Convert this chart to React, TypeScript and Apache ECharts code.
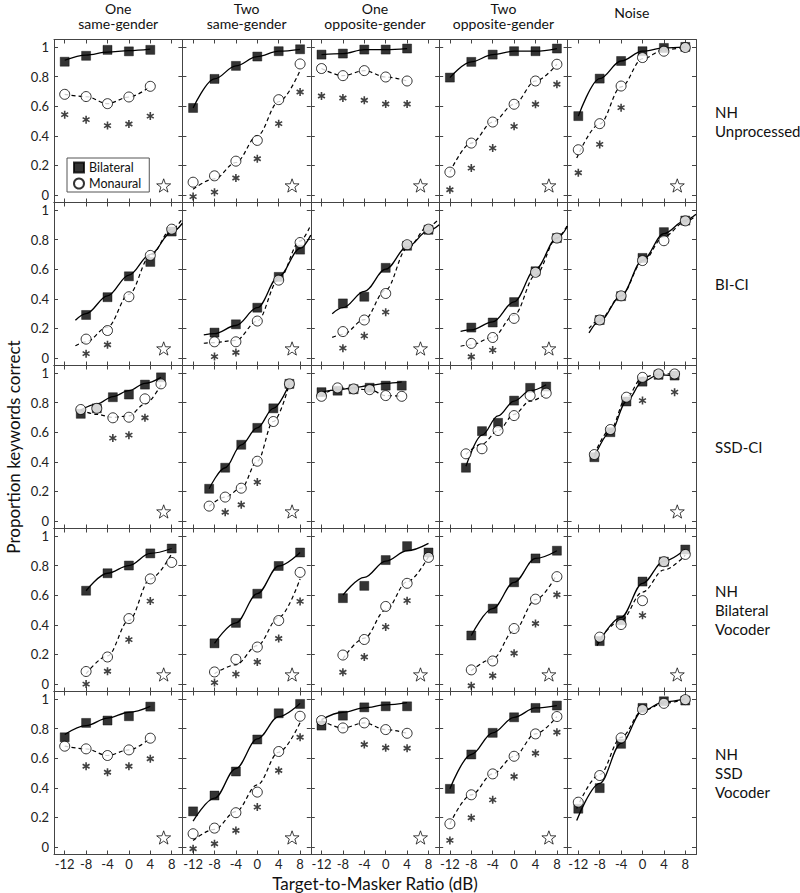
import React, { useEffect, useRef } from "react";
import * as echarts from "echarts";

// ---------- labels ----------
const conditions = ["One\nsame-gender", "Two\nsame-gender", "One\nopposite-gender", "Two\nopposite-gender", "Noise"];
const groups = ["NH\nUnprocessed", "BI-CI", "SSD-CI", "NH\nBilateral\nVocoder", "NH\nSSD\nVocoder"];
const xTicks = [-12, -8, -4, 0, 4, 8];
const yTicks = [0, 0.2, 0.4, 0.6, 0.8, 1];

// ---------- target-to-masker ratios per panel (row = group, col = condition) ----------
const tmrUnproc = [[-12, -8, -4, 0, 4], [-12, -8, -4, 0, 4, 8], [-12, -8, -4, 0, 4], [-12, -8, -4, 0, 4, 8], [-12, -8, -4, 0, 4, 8]];
const tmrBiCI = [[-8, -4, 0, 4, 8], [-8, -4, 0, 4, 8], [-8, -4, 0, 4, 8], [-8, -4, 0, 4, 8], [-8, -4, 0, 4, 8]];
const tmrSsdCI = [[-9, -6, -3, 0, 3, 6], [-9, -6, -3, 0, 3, 6], [-12, -9, -6, -3, 0, 3], [-9, -6, -3, 0, 3, 6], [-9, -6, -3, 0, 3, 6]];
const tmrBiVoc = [[-8, -4, 0, 4, 8], [-8, -4, 0, 4, 8], [-8, -4, 0, 4, 8], [-8, -4, 0, 4, 8], [-8, -4, 0, 4, 8]];
const tmrSsdVoc = [[-12, -8, -4, 0, 4], [-12, -8, -4, 0, 4, 8], [-12, -8, -4, 0, 4], [-12, -8, -4, 0, 4, 8], [-12, -8, -4, 0, 4, 8]];

// ---------- Bilateral (filled squares) ----------
const bilUnproc = [[0.90, 0.94, 0.98, 0.97, 0.98], [0.588, 0.784, 0.872, 0.935, 0.971, 0.984], [0.948, 0.955, 0.982, 0.982, 0.989], [0.793, 0.899, 0.948, 0.971, 0.971, 0.989], [0.533, 0.786, 0.905, 0.971, 0.993, 1.0]];
const bilBiCI = [[0.291, 0.411, 0.552, 0.649, 0.854], [0.172, 0.228, 0.34, 0.548, 0.732], [0.369, 0.414, 0.609, 0.758, 0.866], [0.206, 0.24, 0.378, 0.586, 0.81], [0.257, 0.418, 0.676, 0.85, 0.928]];
const bilSsdCI = [[0.724, 0.761, 0.836, 0.854, 0.921, 0.97], [0.218, 0.36, 0.515, 0.629, 0.761, 0.926], [0.87, 0.88, 0.89, 0.9, 0.914, 0.914], [0.36, 0.607, 0.663, 0.813, 0.899, 0.908], [0.431, 0.6, 0.807, 0.941, 0.987, 0.982]];
const bilBiVoc = [[0.63, 0.748, 0.8, 0.882, 0.915], [0.275, 0.413, 0.61, 0.797, 0.888], [0.58, 0.663, 0.837, 0.931, 0.888], [0.328, 0.509, 0.687, 0.848, 0.9], [0.29, 0.431, 0.692, 0.826, 0.908]];
const bilSsdVoc = [[0.741, 0.838, 0.854, 0.883, 0.948], [0.241, 0.348, 0.51, 0.726, 0.903, 0.966], [0.82, 0.887, 0.943, 0.95, 0.95], [0.393, 0.625, 0.771, 0.876, 0.939, 0.955], [0.259, 0.398, 0.697, 0.939, 0.984, 0.989]];

// ---------- Monaural (open circles) ----------
const monUnproc = [[0.68, 0.665, 0.617, 0.662, 0.734], [0.087, 0.13, 0.229, 0.369, 0.644, 0.885], [0.854, 0.806, 0.84, 0.797, 0.77], [0.155, 0.351, 0.493, 0.613, 0.77, 0.883], [0.306, 0.482, 0.736, 0.928, 0.971, 0.996]];
const monBiCI = [[0.128, 0.186, 0.414, 0.693, 0.87], [0.11, 0.11, 0.25, 0.526, 0.78], [0.179, 0.257, 0.436, 0.765, 0.87], [0.099, 0.139, 0.268, 0.579, 0.81], [0.257, 0.42, 0.658, 0.792, 0.926]];
const monSsdCI = [[0.753, 0.761, 0.697, 0.701, 0.825, 0.926], [0.101, 0.162, 0.222, 0.404, 0.672, 0.926], [0.842, 0.899, 0.892, 0.887, 0.847, 0.842], [0.454, 0.488, 0.611, 0.712, 0.847, 0.863], [0.449, 0.618, 0.836, 0.97, 0.993, 0.993]];
const monBiVoc = [[0.085, 0.183, 0.442, 0.71, 0.821], [0.082, 0.167, 0.25, 0.429, 0.754], [0.196, 0.301, 0.524, 0.68, 0.855], [0.096, 0.156, 0.375, 0.573, 0.725], [0.317, 0.402, 0.563, 0.826, 0.875]];
const monSsdVoc = [[0.681, 0.663, 0.618, 0.656, 0.735], [0.09, 0.128, 0.232, 0.371, 0.645, 0.883], [0.854, 0.804, 0.838, 0.793, 0.768], [0.157, 0.353, 0.494, 0.613, 0.764, 0.881], [0.303, 0.483, 0.737, 0.928, 0.97, 0.995]];

// ---------- significance asterisks (height of mark, null = none) ----------
const astUnproc = [[0.543, 0.509, 0.469, 0.48, 0.533], [-0.01, 0.02, 0.115, 0.245, 0.482, 0.696], [0.669, 0.655, 0.64, 0.615, 0.615], [0.036, 0.182, 0.317, 0.464, 0.613, 0.748], [0.151, 0.342, 0.59, null, null, null]];
const astBiCI = [[0.03, 0.09, null, null, null], [0.01, 0.038, null, null, null], [0.067, 0.15, 0.31, null, null], [0.009, 0.054, null, null, null], [null, null, null, null, null]];
const astSsdCI = [[null, null, 0.56, 0.58, 0.697, null], [null, 0.06, 0.11, 0.263, null, null], [null, null, null, null, null, null], [null, null, null, null, null, null], [null, null, null, 0.813, null, 0.87]];
const astBiVoc = [[0.0, 0.087, 0.3, 0.56, null], [0.01, 0.067, 0.149, 0.308, 0.558], [0.08, 0.183, 0.386, 0.563, null], [-0.011, 0.056, 0.208, 0.409, 0.603], [null, null, 0.464, null, null]];
const astSsdVoc = [[null, 0.546, 0.505, 0.546, 0.596], [-0.011, 0.023, 0.112, 0.27, 0.517, 0.741], [null, null, 0.692, 0.67, 0.667], [0.045, 0.198, 0.319, 0.476, 0.633, 0.775], [null, null, null, null, null, null]];

// ---------- open-star markers (1 = shown) ----------
const starUnproc = [1, 1, 1, 1, 1];
const starBiCI = [1, 1, 1, 1, 0];
const starSsdCI = [1, 1, 0, 0, 1];
const starBiVoc = [1, 1, 1, 1, 1];
const starSsdVoc = [1, 1, 1, 1, 0];
const starPos = [6.5, 0.065];

// ---------- fitted curves (null = curve follows the points) ----------
type Pts = number[][] | null;
const fitBilUnproc: Pts[] = [[[-12, 0.91], [-8, 0.945], [-4, 0.965], [0, 0.975], [4, 0.985]], null, null, null, null];
const fitMonUnproc: Pts[] = [null, [[-12, 0.04], [-8, 0.11], [-4, 0.22], [0, 0.4], [4, 0.63], [8, 0.84]], null, null, [[-12.3, 0.25], [-8, 0.48], [-4, 0.73], [0, 0.92], [4, 0.98], [8, 1.0]]];
const fitBilBiCI: Pts[] = [
  [[-10, 0.255], [-8, 0.3], [-4, 0.42], [0, 0.56], [4, 0.7], [8, 0.85], [10, 0.91]],
  [[-10, 0.157], [-8, 0.165], [-4, 0.22], [0, 0.34], [4, 0.55], [8, 0.74], [10, 0.83]],
  [[-10, 0.3], [-8, 0.34], [-4, 0.45], [0, 0.6], [4, 0.75], [8, 0.86], [10, 0.9]],
  [[-10, 0.18], [-8, 0.19], [-4, 0.245], [0, 0.38], [4, 0.6], [8, 0.81], [10, 0.89]],
  [[-10, 0.17], [-8, 0.25], [-4, 0.42], [0, 0.66], [4, 0.84], [8, 0.93], [10, 0.97]],
];
const fitMonBiCI: Pts[] = [
  [[-10, 0.083], [-8, 0.11], [-4, 0.21], [0, 0.43], [4, 0.69], [8, 0.87], [10, 0.94]],
  [[-10, 0.1], [-8, 0.105], [-4, 0.12], [0, 0.25], [4, 0.53], [8, 0.79], [10, 0.9]],
  [[-10, 0.14], [-8, 0.16], [-4, 0.26], [0, 0.46], [4, 0.74], [8, 0.89], [10, 0.94]],
  [[-10, 0.08], [-8, 0.09], [-4, 0.14], [0, 0.29], [4, 0.56], [8, 0.81], [10, 0.9]],
  [[-10, 0.2], [-8, 0.26], [-4, 0.42], [0, 0.65], [4, 0.82], [8, 0.92], [10, 0.96]],
];
const fitBilSsdCI: Pts[] = [
  [[-9, 0.75], [-6, 0.79], [-3, 0.84], [0, 0.88], [3, 0.93], [6, 0.97]],
  null,
  [[-12, 0.87], [-9, 0.885], [-6, 0.9], [-3, 0.915], [0, 0.93], [3, 0.94]],
  [[-9, 0.37], [-6, 0.58], [-3, 0.71], [0, 0.81], [3, 0.88], [6, 0.92]],
  null,
];
const fitMonSsdCI: Pts[] = [
  [[-9, 0.75], [-6, 0.72], [-3, 0.7], [0, 0.71], [3, 0.79], [6, 0.92]],
  null,
  null,
  [[-9, 0.45], [-6, 0.52], [-3, 0.61], [0, 0.72], [3, 0.81], [6, 0.86]],
  null,
];
const fitBilBiVoc: Pts[] = [null, null, [[-8, 0.6], [-4, 0.72], [0, 0.83], [4, 0.9], [8, 0.95]], null, [[-8.5, 0.26], [-4, 0.45], [0, 0.68], [4, 0.83], [8, 0.91]]];
const fitMonBiVoc: Pts[] = [
  [[-8, 0.07], [-4, 0.19], [0, 0.43], [4, 0.71], [8, 0.88]],
  [[-8, 0.07], [-4, 0.13], [0, 0.26], [4, 0.45], [8, 0.71]],
  [[-8, 0.17], [-4, 0.31], [0, 0.5], [4, 0.69], [8, 0.86]],
  [[-8, 0.09], [-4, 0.17], [0, 0.36], [4, 0.57], [8, 0.74]],
  [[-8.5, 0.28], [-4, 0.43], [0, 0.62], [4, 0.77], [8, 0.87]],
];
const fitBilSsdVoc: Pts[] = [
  [[-12, 0.76], [-8, 0.82], [-4, 0.87], [0, 0.91], [4, 0.95]],
  [[-12, 0.175], [-8, 0.33], [-4, 0.53], [0, 0.73], [4, 0.88], [8, 0.97]],
  [[-12, 0.86], [-8, 0.91], [-4, 0.94], [0, 0.96], [4, 0.975]],
  null,
  [[-12.3, 0.18], [-8, 0.43], [-4, 0.7], [0, 0.92], [4, 0.98], [8, 1.0]],
];
const fitMonSsdVoc: Pts[] = [null, [[-12, 0.045], [-8, 0.12], [-4, 0.24], [0, 0.42], [4, 0.64], [8, 0.84]], null, null, [[-12.3, 0.26], [-8, 0.49], [-4, 0.74], [0, 0.92], [4, 0.97], [8, 1.0]]];

const FONT = "Lato, 'Open Sans', 'DejaVu Sans', sans-serif";
const INK = "#000";
const STAR_PATH = "path://M0,-10L2.35,-3.24L9.51,-3.09L3.8,1.24L5.88,8.09L0,4L-5.88,8.09L-3.8,1.24L-9.51,-3.09L-2.35,-3.24Z";
const AST_PATH = "path://M0,-6L0,6M-5.2,-3L5.2,3M-5.2,3L5.2,-3";

export default function App() {
  const ref = useRef<HTMLDivElement>(null);
  useEffect(() => {
    if (!ref.current) return;
    const chart = echarts.init(ref.current, undefined, { renderer: "svg" });

    const rows = [
      { tmr: tmrUnproc, bil: bilUnproc, mon: monUnproc, ast: astUnproc, star: starUnproc, fb: fitBilUnproc, fm: fitMonUnproc },
      { tmr: tmrBiCI, bil: bilBiCI, mon: monBiCI, ast: astBiCI, star: starBiCI, fb: fitBilBiCI, fm: fitMonBiCI },
      { tmr: tmrSsdCI, bil: bilSsdCI, mon: monSsdCI, ast: astSsdCI, star: starSsdCI, fb: fitBilSsdCI, fm: fitMonSsdCI },
      { tmr: tmrBiVoc, bil: bilBiVoc, mon: monBiVoc, ast: astBiVoc, star: starBiVoc, fb: fitBilBiVoc, fm: fitMonBiVoc },
      { tmr: tmrSsdVoc, bil: bilSsdVoc, mon: monSsdVoc, ast: astSsdVoc, star: starSsdVoc, fb: fitBilSsdVoc, fm: fitMonSsdVoc },
    ];

    const GL = 54, GT = 39.5, CW = 128.4, CH = 163;
    const grids: any[] = [];
    const xAxes: any[] = [];
    const yAxes: any[] = [];
    const series: any[] = [];
    const axisLine = { show: true, onZero: false, lineStyle: { color: "#444", width: 1 } };
    const tickStyle = { color: "#444", width: 1 };

    rows.forEach((row, r) => {
      for (let c = 0; c < 5; c++) {
        const idx = r * 5 + c;
        grids.push({ left: GL + c * CW, top: GT + r * CH, width: CW, height: CH });
        const xBase = {
          gridIndex: idx, type: "value", min: -14, max: 10,
          axisLine, splitLine: { show: false },
          axisTick: { show: true, inside: true, length: 4, customValues: xTicks, lineStyle: tickStyle },
        };
        xAxes.push({
          ...xBase, position: "bottom",
          axisLabel: { show: r === 4, customValues: xTicks, margin: 3, color: "#222", fontSize: 13, fontFamily: FONT, formatter: (v: number) => String(v) },
        });
        xAxes.push({ ...xBase, position: "top", axisLabel: { show: false } });
        const yBase = {
          gridIndex: idx, type: "value", min: -0.05, max: 1.05,
          axisLine, splitLine: { show: false },
          axisTick: { show: true, inside: true, length: 4, customValues: yTicks, lineStyle: tickStyle },
        };
        yAxes.push({
          ...yBase, position: "left",
          axisLabel: { show: c === 0, customValues: yTicks, margin: 5, color: "#222", fontSize: 13, fontFamily: FONT, formatter: (v: number) => String(Math.round(v * 10) / 10) },
        });
        yAxes.push({ ...yBase, position: "right", axisLabel: { show: false } });

        const ax = { xAxisIndex: 2 * idx, yAxisIndex: 2 * idx };
        const tmr = row.tmr[c];
        const bPts = tmr.map((x, i) => [x, row.bil[c][i]]);
        const mPts = tmr.map((x, i) => [x, row.mon[c][i]]);
        const aPts = tmr.map((x, i) => [x, row.ast[c][i]]).filter((p) => p[1] !== null);

        series.push({
          type: "line", ...ax, data: row.fb[c] ?? bPts, smooth: 0.35, smoothMonotone: "x",
          showSymbol: false, symbol: "none", silent: true, z: 2,
          lineStyle: { color: INK, width: 1.3 },
        });
        series.push({
          type: "line", ...ax, data: row.fm[c] ?? mPts, smooth: 0.35, smoothMonotone: "x",
          showSymbol: false, symbol: "none", silent: true, z: 2,
          lineStyle: { color: INK, width: 1.2, type: [4, 3] },
        });
        series.push({
          name: "Bilateral", type: "scatter", ...ax, data: bPts, symbol: "rect", symbolSize: 9, z: 3,
          itemStyle: { color: INK, borderColor: INK, borderWidth: 0.5 },
        });
        series.push({
          name: "Monaural", type: "scatter", ...ax, data: mPts, symbol: "circle", symbolSize: 10, z: 4,
          itemStyle: { color: "#fff", borderColor: INK, borderWidth: 1 },
        });
        if (aPts.length) {
          series.push({
            type: "scatter", ...ax, data: aPts, symbol: AST_PATH, symbolSize: 8, symbolKeepAspect: true, z: 3, silent: true,
            itemStyle: { color: "none", borderColor: "#111", borderWidth: 1.6 },
          });
        }
        if (row.star[c]) {
          series.push({
            type: "scatter", ...ax, data: [starPos], symbol: STAR_PATH, symbolSize: 14, symbolKeepAspect: true, z: 3, silent: true,
            itemStyle: { color: "#fff", borderColor: "#111", borderWidth: 1 },
          });
        }
      }
    });

    const graphic: any[] = [];
    conditions.forEach((t, c) => {
      const cx = GL + CW * (c + 0.5);
      const lines = t.split("\n");
      const ys = lines.length === 1 ? [12] : [8, 23.5];
      lines.forEach((ln, k) => {
        graphic.push({
          type: "text", x: cx, y: ys[k],
          style: { text: ln, fill: "#111", font: `14px ${FONT}`, textAlign: "center", textVerticalAlign: "middle" },
        });
      });
    });
    groups.forEach((t, r) => {
      const cy = GT + CH * (r + 0.5);
      graphic.push({
        type: "text", x: 715, y: cy,
        style: { text: t, fill: "#111", font: `15px ${FONT}`, lineHeight: 19, textAlign: "left", textVerticalAlign: "middle" },
      });
    });
    graphic.push({
      type: "text", x: 13, y: GT + CH * 2.5, rotation: Math.PI / 2,
      style: { text: "Proportion keywords correct", fill: "#111", font: `17px ${FONT}`, textAlign: "center", textVerticalAlign: "middle" },
    });
    graphic.push({
      type: "text", x: GL + CW * 2.5, y: 883,
      style: { text: "Target-to-Masker Ratio (dB)", fill: "#111", font: `17px ${FONT}`, textAlign: "center", textVerticalAlign: "middle" },
    });

    chart.setOption({
      animation: false,
      backgroundColor: "#fff",
      grid: grids,
      xAxis: xAxes,
      yAxis: yAxes,
      series,
      graphic,
      legend: {
        show: true, left: 67, top: 158, orient: "vertical", selectedMode: false,
        data: ["Bilateral", "Monaural"], itemWidth: 10, itemHeight: 10, itemGap: 3,
        padding: [3, 8, 2, 6], borderColor: "#555", borderWidth: 1, backgroundColor: "#fff",
        textStyle: { fontSize: 12.5, fontFamily: FONT, color: "#111" },
      },
    });
    return () => chart.dispose();
  }, []);
  return <div ref={ref} style={{ position: "fixed", left: 0, top: 0, width: 800, height: 893 }} />;
}
